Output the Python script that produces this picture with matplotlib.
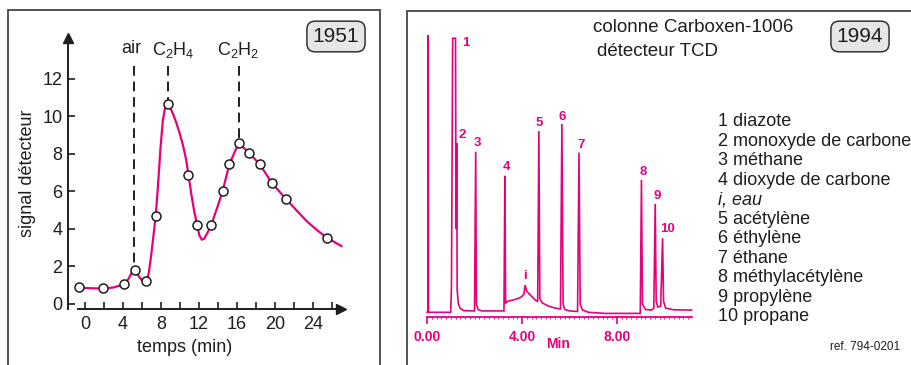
import matplotlib
matplotlib.use("Agg")
import matplotlib.pyplot as plt
from matplotlib.patches import Rectangle

plt.rcParams["font.family"] = ["Liberation Sans", "DejaVu Sans"]
plt.rcParams["mathtext.fontset"] = "custom"
plt.rcParams["mathtext.rm"] = "Liberation Sans"
plt.rcParams["mathtext.it"] = "Liberation Sans:italic"

PINK = "#e6007e"
DARK = "#1e1e1e"
FRAME = "#444444"

# --- 1951 : packed column, points measured by hand ---
meas_t = [-0.6, 1.9, 4.1, 5.3, 6.4, 7.45, 8.7, 10.9, 11.8, 13.3, 14.5, 15.2, 16.2, 17.3, 18.4, 19.7, 21.2, 25.5]
meas_s = [0.88, 0.83, 1.05, 1.83, 1.23, 4.7, 10.67, 6.88, 4.22, 4.22, 6.03, 7.45, 8.57, 8.05, 7.45, 6.44, 5.58, 3.52]

# hand-drawn curve through the points
curve_t = [-0.6, 1.9, 3.0, 4.1, 4.6, 5.0, 5.3, 5.7, 6.1, 6.45, 6.7, 6.95, 7.2, 7.45, 7.7, 7.95,
           8.2, 8.45, 8.7, 9.0, 9.3, 9.65, 10.0, 10.35, 10.65, 10.9, 11.2, 11.5, 11.8, 12.05,
           12.3, 12.55, 12.9, 13.3, 13.9, 14.5, 15.2, 15.8, 16.2, 16.6, 17.3, 18.4, 19.7,
           21.2, 22.3, 23.3, 24.4, 25.5, 27.0]
curve_s = [0.86, 0.82, 0.88, 1.05, 1.35, 1.75, 1.85, 1.45, 1.2, 1.2, 1.6, 2.5, 3.6, 4.7, 6.4, 8.3,
           9.8, 10.5, 10.67, 10.45, 10.1, 9.62, 9.05, 8.4, 7.7, 6.88, 5.85, 4.95, 4.22, 3.65,
           3.43, 3.48, 3.8, 4.22, 5.1, 6.03, 7.45, 8.15, 8.57, 8.38, 8.05, 7.45, 6.44,
           5.58, 4.98, 4.44, 3.95, 3.52, 3.09]

marker_names = ["air", r"C$_{\mathrm{2}}$H$_{\mathrm{4}}$", r"C$_{\mathrm{2}}$H$_{\mathrm{2}}$"]
marker_t = [5.2, 8.7, 16.2]
marker_peak = [1.95, 10.67, 8.57]

# --- 1994 : Carboxen-1006 chromatogram trace (vertices) ---
trace_t = [0.00, 0.05, 0.05, 0.06, 1.00, 1.03, 1.08, 1.20, 1.22, 1.23, 1.25, 1.27, 1.32, 1.40,
           1.55, 2.00, 2.05, 2.08, 2.15, 2.30, 3.24, 3.28, 3.31, 3.40, 3.70, 3.95, 4.08, 4.13,
           4.20, 4.35, 4.55, 4.66, 4.71, 4.75, 4.85, 5.10, 5.40, 5.62, 5.68, 5.73, 5.80, 6.00,
           6.34, 6.40, 6.45, 6.55, 6.80, 7.50, 8.98, 9.03, 9.07, 9.20, 9.45, 9.55, 9.61, 9.65,
           9.72, 9.84, 9.92, 9.96, 10.05, 10.40, 11.14]
trace_s = [0.0, 0.0, 100.0, 0.0, 0.0, 10.0, 98.8, 98.8, 40.0, 30.0, 61.0, 8.0, 3.0, 1.4,
           0.6, 0.5, 57.9, 3.0, 1.0, 0.5, 0.5, 49.2, 3.2, 4.0, 4.6, 5.4, 6.5, 9.8,
           7.6, 6.2, 4.5, 3.8, 65.4, 5.0, 3.4, 2.3, 1.5, 1.2, 67.9, 3.0, 1.0, 0.5,
           0.3, 57.6, 3.0, 0.8, 0.0, -0.4, -0.4, 47.7, 3.0, 1.0, 0.8, 1.5, 39.1, 4.0,
           1.9, 2.2, 26.7, 4.0, 1.5, 0.9, 0.8]

peak_labels = ["1", "2", "3", "4", "i", "5", "6", "7", "8", "9", "10"]
peak_label_t = [1.63, 1.49, 2.12, 3.33, 4.13, 4.73, 5.70, 6.50, 9.12, 9.68, 10.14]
peak_label_s = [97.0, 63.9, 61.0, 52.5, 13.1, 68.2, 70.5, 60.3, 50.7, 41.9, 29.9]

compounds = ["1 diazote", "2 monoxyde de carbone", "3 méthane", "4 dioxyde de carbone",
             "i, eau", "5 acétylène", "6 éthylène", "7 éthane", "8 méthylacétylène",
             "9 propylène", "10 propane"]


def draw_left(ax):
    ax.set_xlim(-2.5, 28)
    ax.set_ylim(-1.5, 15)
    ax.patch.set_alpha(0)

    for side in ["top", "right"]:
        ax.spines[side].set_visible(False)
    ax.spines["left"].set_position(("data", -1.8))
    ax.spines["left"].set_bounds(-0.25, 14.2)
    ax.spines["bottom"].set_position(("data", -0.25))
    ax.spines["bottom"].set_bounds(-0.75, 27.0)
    for side in ["left", "bottom"]:
        ax.spines[side].set_color(DARK)
        ax.spines[side].set_linewidth(1.4)

    # arrow heads
    ax.plot([-1.8], [14.2], marker="^", ms=7, color=DARK, clip_on=False)
    ax.plot([27.0], [-0.25], marker=">", ms=7, color=DARK, clip_on=False)

    ax.set_yticks(range(0, 13, 2))
    ax.set_xticks(range(0, 25, 4))
    ax.set_xticks(range(2, 27, 4), minor=True)
    ax.tick_params(axis="both", which="both", direction="in", length=5, width=1.2,
                   color=DARK, labelsize=13, labelcolor=DARK)
    ax.tick_params(axis="x", pad=5)
    ax.tick_params(axis="y", pad=4)

    ax.plot(curve_t, curve_s, color=PINK, lw=1.6, zorder=2)
    ax.plot(meas_t, meas_s, "o", ms=6.5, mfc="white", mec=DARK, mew=1.1, zorder=3)

    for name, t, top in zip(marker_names, marker_t, marker_peak):
        ax.plot([t, t], [12.7, top], color=DARK, lw=1.4, ls=(0, (5, 3)), zorder=1)
    ax.text(4.84, 13.62, marker_names[0], fontsize=13, ha="center", va="center", color=DARK)
    ax.text(9.3, 13.55, marker_names[1], fontsize=13, ha="center", va="center", color=DARK)
    ax.text(16.14, 13.55, marker_names[2], fontsize=13, ha="center", va="center", color=DARK)

    ax.text(0.427, -0.051, "temps (min)", transform=ax.transAxes, fontsize=13,
            ha="center", va="center", color=DARK)
    ax.text(-0.115, 0.514, "signal détecteur", transform=ax.transAxes, fontsize=13,
            ha="center", va="center", rotation=90, color=DARK)


def draw_right(ax):
    ax.set_xlim(-0.5, 11.5)
    ax.set_ylim(-12, 105)
    ax.patch.set_alpha(0)

    for side in ["top", "right", "left"]:
        ax.spines[side].set_visible(False)
    ax.spines["bottom"].set_position(("data", -1.7))
    ax.spines["bottom"].set_bounds(0, 11.14)
    ax.spines["bottom"].set_color(PINK)
    ax.spines["bottom"].set_linewidth(1.3)

    ax.set_yticks([])
    ax.set_xticks([0, 4, 8])
    ax.set_xticklabels(["0.00", "4.00", "8.00"])
    ax.set_xticks([i * 0.2 for i in range(56)], minor=True)
    ax.tick_params(axis="x", which="major", direction="out", length=5, width=1.2,
                   color=PINK, labelcolor=PINK, labelsize=10, pad=4)
    ax.tick_params(axis="x", which="minor", direction="out", length=1.5, width=0.6,
                   color=PINK)
    for lab in ax.get_xticklabels():
        lab.set_fontweight("bold")

    ax.plot(trace_t, trace_s, color=PINK, lw=1.2, solid_joinstyle="miter")

    for lab, t, s in zip(peak_labels, peak_label_t, peak_label_s):
        ax.text(t, s, lab, color=PINK, fontsize=9.5, fontweight="bold",
                ha="center", va="center")
    ax.text(5.5, -11.4, "Min", color=PINK, fontsize=10, fontweight="bold",
            ha="center", va="center", clip_on=False)


fig = plt.figure(figsize=(9.11, 3.65), dpi=100)

# panel frames
fig.patches.append(Rectangle((8 / 911, -0.1), 372 / 911, 1.1 - 10 / 365, transform=fig.transFigure,
                             fill=False, edgecolor=FRAME, lw=1.3))
fig.patches.append(Rectangle((407 / 911, -0.1), 0.6, 1.1 - 11 / 365, transform=fig.transFigure,
                             fill=False, edgecolor=FRAME, lw=1.3))

ax1 = fig.add_axes([0.0672, 0.0901, 0.318, 0.8476])
draw_left(ax1)

ax2 = fig.add_axes([0.4557, 0.0532, 0.3128, 0.889])
draw_right(ax2)

box = dict(boxstyle="round,pad=0.28,rounding_size=0.4", facecolor="#e6e6e6",
           edgecolor="#333333", lw=1.1)
fig.text(0.3688, 0.90, "1951", fontsize=15, ha="center", va="center", color=DARK, bbox=box)
fig.text(0.944, 0.90, "1994", fontsize=15, ha="center", va="center", color=DARK, bbox=box)

fig.text(593 / 911, 1 - 28 / 365, "colonne Carboxen-1006", fontsize=13.5,
         ha="left", va="center", color=DARK)
fig.text(597 / 911, 1 - 52 / 365, "détecteur TCD", fontsize=13.5,
         ha="left", va="center", color=DARK)

for i, name in enumerate(compounds):
    y = 1 - (121.7 + i * 19.5) / 365
    style = "italic" if name.startswith("i,") else "normal"
    fig.text(718 / 911, y, name, fontsize=13, style=style, ha="left", va="center", color=DARK)

fig.text(900 / 911, 1 - 347 / 365, "ref. 794-0201", fontsize=8.5, ha="right", va="center",
         color=DARK)

fig.savefig("out.png", dpi=100)
